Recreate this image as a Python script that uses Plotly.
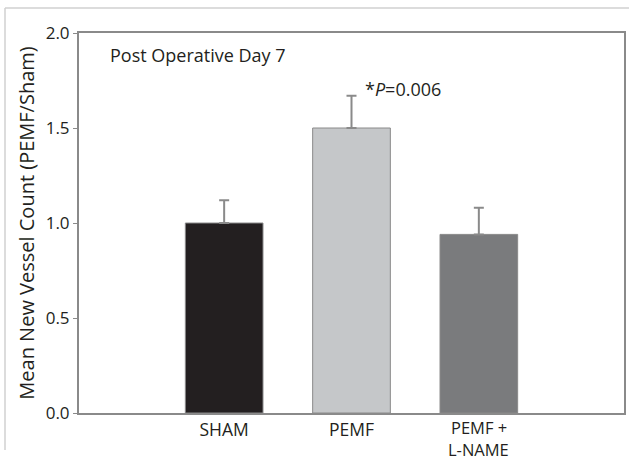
import plotly.graph_objects as go

categories = ["SHAM", "PEMF", "PEMF +\nL-NAME"]
means = [1.00, 1.50, 0.94]
errors_up = [0.12, 0.17, 0.14]
bar_colors = ["#231f20", "#c5c7c9", "#7a7b7d"]
y_ticks = [0.0, 0.5, 1.0, 1.5, 2.0]
y_tick_labels = ["0.0", "0.5", "1.0", "1.5", "2.0"]

FONT = "Open Sans, Noto Sans, sans-serif"

# single-line categories use the axis tick labels; two-line categories are
# drawn as two tightly spaced labels at the category position (as in the reference)
tick_text = [c if "\n" not in c else "" for c in categories]

fig = go.Figure()
fig.add_trace(go.Bar(
    x=list(range(len(categories))),
    y=means,
    width=0.61,
    marker=dict(color=bar_colors, line=dict(color="#8a8a8a", width=1)),
    error_y=dict(type="data", symmetric=False, array=errors_up,
                 arrayminus=[0] * len(means),
                 color="#8a8a8a", thickness=2, width=5),
    showlegend=False,
))

annotations = [
    dict(text="Post Operative Day 7", x=-0.91, y=1.885, xref="x", yref="y",
         xanchor="left", yanchor="middle", showarrow=False,
         font=dict(size=18, family=FONT, color="#231f20")),
    dict(text="*<i>P</i>=0.006", x=1.09, y=1.705, xref="x", yref="y",
         xanchor="left", yanchor="middle", showarrow=False,
         font=dict(size=18, family=FONT, color="#231f20")),
]
line_offsets = [-14.5, -36.5]  # px below the x axis (paper units computed below)
for i, c in enumerate(categories):
    if "\n" in c:
        for k, part in enumerate(c.split("\n")):
            annotations.append(dict(
                text=part, x=i, y=line_offsets[k] / 380, xref="x", yref="paper",
                xanchor="center", yanchor="middle", showarrow=False,
                font=dict(size=16.5, family=FONT, color="#231f20")))

fig.update_layout(
    width=629, height=461,
    margin=dict(l=79, r=5, t=33, b=48, autoexpand=False),
    paper_bgcolor="white", plot_bgcolor="white",
    font=dict(family=FONT, color="#231f20", size=18),
    xaxis=dict(
        range=[-1.14, 3.14], automargin=False,
        tickmode="array", tickvals=list(range(len(categories))),
        ticktext=tick_text,
        tickfont=dict(size=17.5, family=FONT),
        showline=True, linecolor="#8a8a8a", linewidth=2, mirror=True,
        showgrid=False, zeroline=False, ticks="",
    ),
    yaxis=dict(
        range=[0, 2.0], automargin=False,
        tickmode="array", tickvals=y_ticks, ticktext=y_tick_labels,
        tickfont=dict(size=17, family=FONT),
        showline=True, linecolor="#8a8a8a", linewidth=2, mirror=True,
        ticks="outside", ticklen=4, tickcolor="#8a8a8a",
        showgrid=False, zeroline=False,
        title=dict(text="Mean New Vessel Count (PEMF/Sham)",
                   font=dict(size=20, family=FONT), standoff=6),
    ),
    annotations=annotations,
    shapes=[
        dict(type="line", xref="paper", yref="paper",
             x0=-74/545, x1=1.02, y0=1 + 25/380, y1=1 + 25/380,
             line=dict(color="#d0d0d0", width=1.5)),
        dict(type="line", xref="paper", yref="paper",
             x0=-74/545, x1=-74/545, y0=1 + 25/380, y1=-37/380,
             line=dict(color="#d0d0d0", width=1.5)),
    ],
)

fig.write_html("out.html", config={"displayModeBar": False},
               post_script="document.body.style.margin='0px';")
